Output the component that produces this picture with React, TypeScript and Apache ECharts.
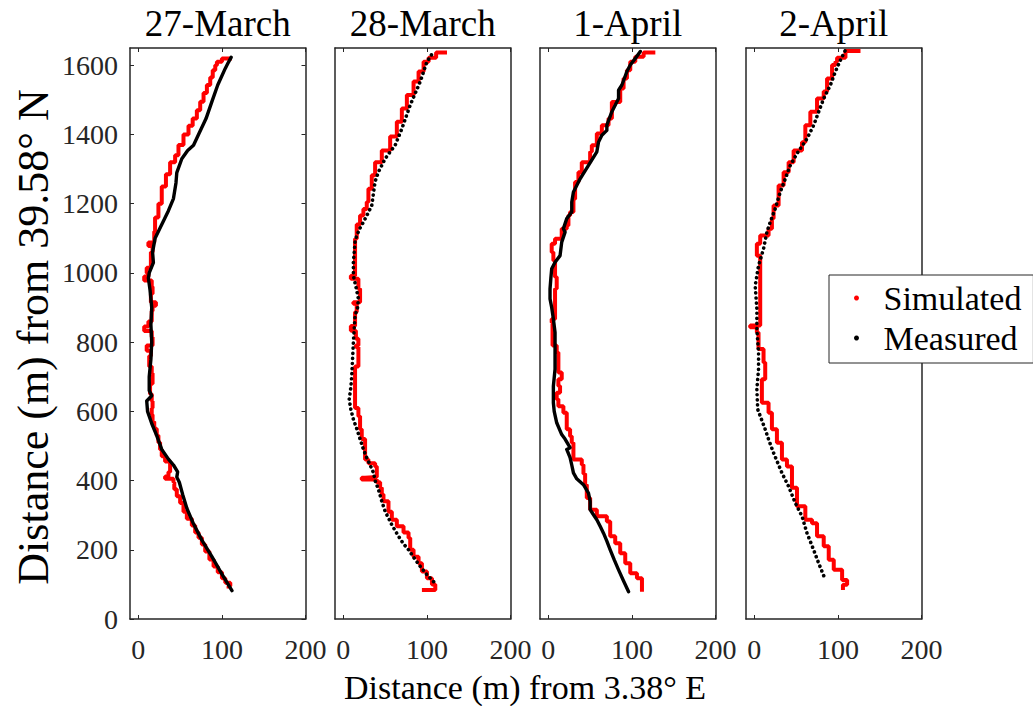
import { useEffect, useRef } from 'react';
import * as echarts from 'echarts';

const FONT = 'Liberation Serif';
const AXIS_COLOR = '#262626';

const panelTitles = ['27-March', '28-March', '1-April', '2-April'];
const xTicks = [0, 100, 200];
const yTicks = [0, 200, 400, 600, 800, 1000, 1200, 1400, 1600];
const xLabelText = 'Distance (m) from 3.38° E';
const yLabelText = 'Distance (m) from 39.58° N';
const legendNames = ['Simulated', 'Measured'];

// 27-March
const sim27: [number, number][] = [
  [108, 88], [110, 95], [104, 105], [100, 118], [95, 135], [90, 152], [85, 172], [80, 195], [76, 215], [72, 235],
  [68, 250], [64, 270], [58, 290], [54, 310], [50, 335], [46, 355], [43, 375], [42, 395], [40, 405], [32, 405],
  [36, 412], [38, 425], [38, 445], [32, 455], [28, 470], [26, 490], [24, 510], [22, 530], [19, 550], [17, 570],
  [16, 590], [17, 610], [16, 630], [14, 650], [17, 680], [16, 710], [13, 730], [15, 760], [10, 775], [17, 790],
  [16, 815], [7, 832], [12, 845], [16, 860], [17, 890], [21, 905], [15, 915], [17, 940], [16, 960], [7, 978],
  [12, 990], [10, 1000], [15, 1015], [17, 1060], [12, 1078], [19, 1088], [20, 1120], [24, 1160], [28, 1200],
  [33, 1250], [38, 1285], [44, 1320], [48, 1340], [54, 1370], [60, 1400], [65, 1425], [70, 1446], [74, 1470],
  [78, 1495], [82, 1520], [86, 1543], [89, 1565], [92, 1586], [94, 1600], [100, 1610], [112, 1620],
];
const mea27: [number, number][] = [
  [112, 82], [100, 130], [88, 180], [76, 228], [66, 275], [58, 320], [53, 360], [49, 395], [46, 410], [47, 425],
  [42, 445], [36, 462], [28, 490], [22, 530], [16, 565], [11, 600], [10, 630], [16, 645], [13, 660], [13, 700],
  [15, 750], [16, 800], [15, 850], [16, 900], [14, 950], [12, 985], [13, 1000], [18, 1030], [17, 1060], [20, 1100],
  [28, 1140], [36, 1180], [42, 1215], [45, 1260], [46, 1290], [52, 1330], [59, 1354], [66, 1369], [72, 1400],
  [81, 1446], [88, 1495], [95, 1543], [104, 1591], [107, 1605], [111, 1623],
];

// 28-March
const sim28: [number, number][] = [
  [94, 84], [110, 84], [110, 94], [106, 100], [100, 118], [94, 137], [90, 161], [84, 180], [80, 200], [80, 215],
  [78, 234], [72, 250], [64, 268], [58, 287], [54, 310], [48, 340], [46, 360], [44, 379], [40, 395], [40, 403],
  [22, 403], [26, 408], [40, 410], [38, 441], [30, 450], [26, 461], [26, 499], [22, 520], [20, 548], [18, 586],
  [14, 610], [14, 635], [14, 693], [18, 730], [15, 786], [18, 790], [15, 810], [9, 833], [14, 847], [16, 887],
  [12, 911], [20, 915], [18, 954], [9, 983], [14, 992], [14, 1060], [16, 1099], [16, 1118], [20, 1140], [24, 1166],
  [28, 1185], [30, 1205], [34, 1243], [38, 1282], [46, 1320], [56, 1354], [64, 1394], [70, 1437], [76, 1475],
  [84, 1514], [90, 1553], [96, 1582], [102, 1610], [111, 1622], [124, 1637],
];
const mea28: [number, number][] = [
  [108, 108], [100, 128], [92, 152], [85, 175], [78, 200], [72, 217], [66, 239], [58, 272], [50, 311], [46, 340],
  [42, 374], [38, 400], [36, 423], [32, 445], [28, 466], [24, 490], [20, 520], [16, 550], [12, 577], [9, 605],
  [7, 635], [9, 670], [10, 702], [11, 750], [12, 800], [13, 840], [14, 876], [17, 900], [18, 925], [15, 960],
  [12, 992], [12, 1030], [14, 1090], [16, 1108], [20, 1130], [24, 1147], [30, 1175], [34, 1195], [36, 1230],
  [38, 1264], [42, 1292], [50, 1330], [56, 1350], [62, 1369], [70, 1417], [80, 1485], [92, 1553], [100, 1610],
  [104, 1625], [108, 1640],
];

// 1-April
const sim1: [number, number][] = [
  [112, 79], [112, 103], [106, 118], [98, 132], [92, 161], [86, 190], [80, 219], [74, 239], [70, 282], [58, 297],
  [50, 316], [46, 350], [44, 388], [42, 420], [40, 446], [30, 461], [30, 499], [28, 509], [26, 528], [22, 548],
  [18, 596], [12, 615], [10, 635], [14, 654], [12, 673], [16, 693], [12, 712], [10, 770], [5, 790], [4, 857],
  [8, 867], [10, 954], [8, 988], [6, 1036], [4, 1060], [8, 1084], [16, 1099], [22, 1128], [24, 1137], [26, 1166],
  [30, 1176], [32, 1214], [36, 1263], [40, 1291], [50, 1320], [52, 1350], [58, 1369], [64, 1403], [72, 1427],
  [76, 1446], [86, 1494], [90, 1533], [94, 1562], [98, 1586], [104, 1610], [114, 1625], [128, 1637],
];
const mea1: [number, number][] = [
  [96, 79], [90, 110], [84, 142], [79, 170], [74, 200], [70, 225], [66, 248], [62, 268], [58, 287], [53, 305],
  [50, 316], [50, 340], [48, 364], [42, 388], [34, 405], [30, 422], [28, 445], [26, 466], [22, 490], [26, 495],
  [20, 520], [16, 533], [10, 567], [7, 600], [6, 625], [6, 673], [8, 722], [8, 790], [8, 828], [6, 867], [4, 900],
  [2, 925], [2, 954], [3, 985], [4, 1012], [8, 1031], [14, 1050], [16, 1089], [20, 1118], [18, 1128], [22, 1157],
  [28, 1176], [28, 1205], [30, 1234], [38, 1272], [48, 1311], [58, 1350], [60, 1378], [64, 1398], [70, 1412],
  [70, 1427], [76, 1466], [84, 1504], [84, 1528], [88, 1543], [94, 1582], [98, 1601], [104, 1620], [110, 1640],
];

// 2-April
const sim2: [number, number][] = [
  [106, 84], [111, 99], [105, 113], [95, 142], [89, 171], [83, 210], [75, 239], [69, 277], [61, 287], [51, 326],
  [45, 379], [39, 441], [33, 461], [27, 509], [27, 519], [21, 548], [17, 596], [9, 625], [9, 654], [13, 693],
  [11, 741], [5, 780], [3, 828], [-5, 843], [7, 848], [7, 1002], [3, 1050], [7, 1084], [17, 1108], [21, 1128],
  [23, 1157], [29, 1195], [35, 1253], [41, 1291], [47, 1320], [57, 1354], [61, 1378], [67, 1427], [75, 1466],
  [83, 1504], [87, 1524], [93, 1562], [97, 1601], [99, 1610], [109, 1622], [127, 1641],
];
const mea2: [number, number][] = [
  [83, 125], [77, 161], [72, 193], [67, 224], [63, 248], [57, 297], [49, 335], [41, 383], [33, 422], [23, 480],
  [17, 519], [13, 548], [4, 606], [3, 664], [5, 722], [5, 770], [3, 838], [3, 896], [1, 963], [5, 1021],
  [11, 1070], [15, 1118], [19, 1147], [25, 1186], [31, 1234], [37, 1272], [43, 1311], [51, 1345], [63, 1388],
  [71, 1427], [77, 1466], [83, 1504], [91, 1543], [97, 1582], [103, 1615], [109, 1644],
];

const simulated = [sim27, sim28, sim1, sim2];
const measured = [mea27, mea28, mea1, mea2];
const measuredDotted = [false, true, false, true];

const X_MIN = -10;
const X_MAX = 200;
const Y_MIN = 0;
const Y_MAX = 1650;

export default function App() {
  const ref = useRef<HTMLDivElement>(null);

  useEffect(() => {
    if (!ref.current) return;
    const chart = echarts.init(ref.current, undefined, { renderer: 'svg' });

    const lefts = [130, 335, 540, 746];
    const gw = 175.5;
    const top = 48;
    const gh = 571;

    const grids = lefts.map((l) => ({ left: l, top, width: gw, height: gh, show: false }));

    const plain = (v: number) => String(v);
    const axisLine = { show: true, onZero: false, lineStyle: { color: AXIS_COLOR, width: 1.5 } };
    const xAxes: any[] = [];
    const yAxes: any[] = [];
    lefts.forEach((_, i) => {
      xAxes.push({
        type: 'value', gridIndex: i, position: 'bottom', min: X_MIN, max: X_MAX,
        axisLine, splitLine: { show: false },
        axisTick: { show: true, inside: true, length: 4, customValues: xTicks, lineStyle: { color: AXIS_COLOR, width: 1 } },
        axisLabel: { show: true, customValues: xTicks, formatter: plain, fontFamily: FONT, fontSize: 28, color: AXIS_COLOR, margin: 16 },
      });
      xAxes.push({
        type: 'value', gridIndex: i, position: 'top', min: X_MIN, max: X_MAX,
        axisLine, splitLine: { show: false },
        axisTick: { show: true, inside: true, length: 4, customValues: xTicks, lineStyle: { color: AXIS_COLOR, width: 1 } },
        axisLabel: { show: false, customValues: xTicks },
      });
      const first = i === 0;
      yAxes.push({
        type: 'value', gridIndex: i, position: 'left', min: Y_MIN, max: Y_MAX,
        axisLine, splitLine: { show: false },
        axisTick: { show: first, inside: true, length: 4, customValues: yTicks, lineStyle: { color: AXIS_COLOR, width: 1 } },
        axisLabel: { show: first, customValues: yTicks, formatter: plain, fontFamily: FONT, fontSize: 28, color: AXIS_COLOR, margin: 12 },
      });
      yAxes.push({
        type: 'value', gridIndex: i, position: 'right', min: Y_MIN, max: Y_MAX,
        axisLine, splitLine: { show: false },
        axisTick: { show: first, inside: true, length: 4, customValues: yTicks, lineStyle: { color: AXIS_COLOR, width: 1 } },
        axisLabel: { show: false, customValues: yTicks },
      });
    });

    const series: any[] = [];
    lefts.forEach((_, i) => {
      series.push({
        type: 'line', name: legendNames[0], xAxisIndex: 2 * i, yAxisIndex: 2 * i,
        data: simulated[i], step: 'start', symbol: 'none', showSymbol: false,
        color: '#ff0000', itemStyle: { color: '#ff0000' },
        lineStyle: { color: '#ff0000', width: 4 }, z: 2,
      });
      series.push({
        type: 'line', name: legendNames[1], xAxisIndex: 2 * i, yAxisIndex: 2 * i,
        data: measured[i], symbol: 'none', showSymbol: false, smooth: false,
        color: '#000000', itemStyle: { color: '#000000' },
        lineStyle: measuredDotted[i]
          ? { color: '#000000', width: 3.6, type: [0.1, 5], cap: 'round' }
          : { color: '#000000', width: 3.4, cap: 'round', join: 'round' },
        z: 3,
      });
    });

    const textStyle = (size: number) => ({
      font: `${size}px "${FONT}"`, fill: '#000', align: 'center', verticalAlign: 'middle',
      textAlign: 'center', textVerticalAlign: 'middle',
    });

    const graphic: any[] = panelTitles.map((t, i) => ({
      type: 'text', x: lefts[i] + gw / 2, y: 23,
      style: { text: t, ...textStyle(37) },
    }));
    graphic.push({ type: 'text', x: 525, y: 687, style: { text: xLabelText, ...textStyle(34) } });
    graphic.push({ type: 'text', x: 33, y: 337, rotation: Math.PI / 2, style: { text: yLabelText, ...textStyle(44) } });

    chart.setOption({
      animation: false,
      backgroundColor: '#ffffff',
      grid: grids,
      xAxis: xAxes,
      yAxis: yAxes,
      series,
      legend: {
        data: legendNames, orient: 'vertical', left: 829, top: 275, padding: [6, 12, 8, 25],
        itemGap: 6, itemWidth: 44, itemHeight: 5, icon: 'circle',
        borderColor: AXIS_COLOR, borderWidth: 1, backgroundColor: '#ffffff',
        textStyle: { fontFamily: FONT, fontSize: 34, color: '#000' },
        selectedMode: false,
      },
      graphic,
    });

    return () => chart.dispose();
  }, []);

  return (
    <div
      ref={ref}
      style={{ position: 'absolute', left: 0, top: 0, width: 1033, height: 706, background: '#fff' }}
    />
  );
}
